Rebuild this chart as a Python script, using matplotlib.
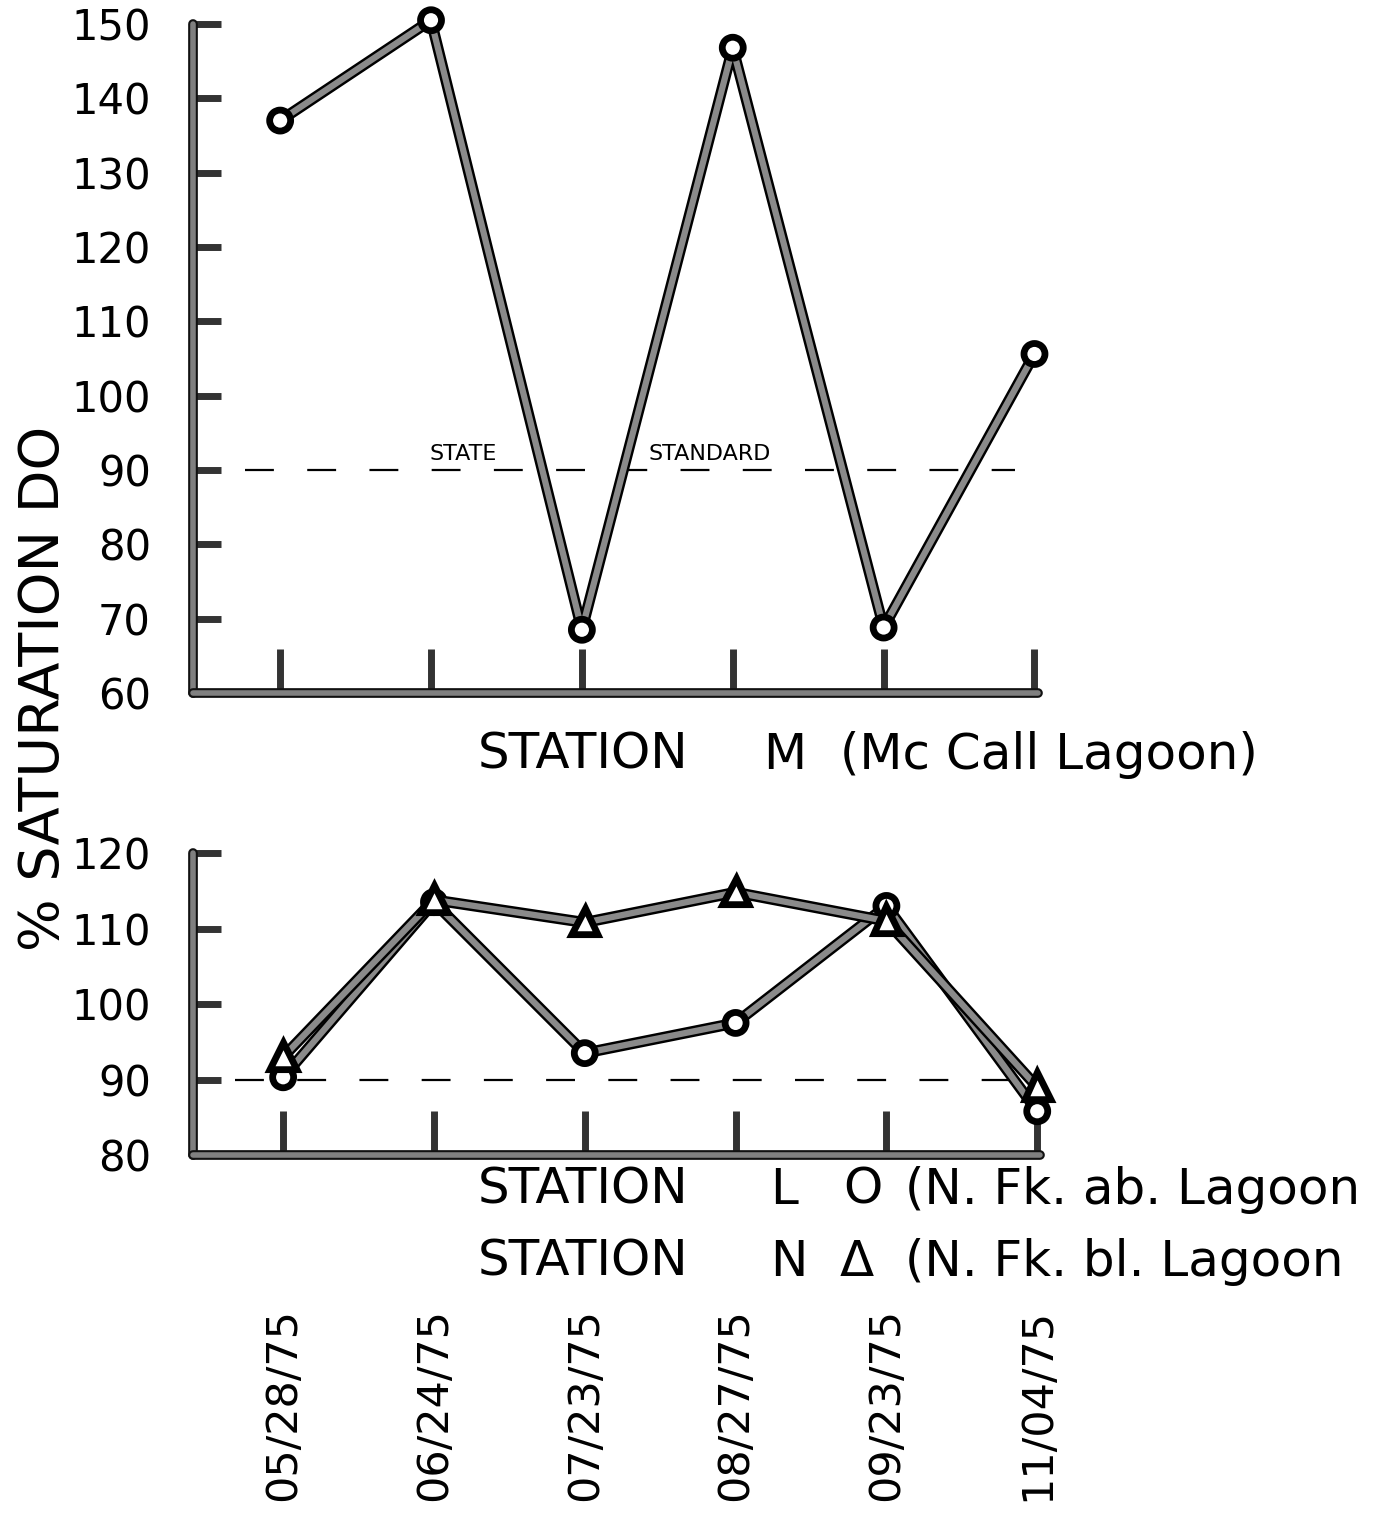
import numpy as np
import matplotlib
matplotlib.use("Agg")
import matplotlib.pyplot as plt
import matplotlib.patheffects as pe

# sampling dates (shared x axis)
dates = ["05/28/75", "06/24/75", "07/23/75", "08/27/75", "09/23/75", "11/04/75"]

# % saturation DO
station_m = [137, 150.5, 68.5, 146.8, 68.8, 105.6]
station_l = [90.3, 113.5, 93.5, 97.5, 113.0, 85.8]
station_n = [93.0, 113.8, 110.8, 114.8, 111.0, 89.0]
state_standard = 90

top_yticks = [60, 70, 80, 90, 100, 110, 120, 130, 140, 150]
bottom_yticks = [80, 90, 100, 110, 120]

plt.rcParams['font.family'] = ['DejaVu Sans']

fig = plt.figure(figsize=(13.76, 15.15), dpi=100)
ax1 = fig.add_axes([0.140, 0.5426, 0.614, 0.4416])
ax2 = fig.add_axes([0.140, 0.2376, 0.616, 0.1993])

x = np.arange(len(dates))
line_fx = [pe.Stroke(linewidth=8, foreground='black'), pe.Normal()]
spine_fx = [pe.Stroke(linewidth=7, foreground='#111111'), pe.Normal()]
dash = (0, (13, 15))


def style_axes(ax, yticks, xlim):
	ax.set_xlim(*xlim)
	ax.set_ylim(yticks[0], yticks[-1])
	for s in ['top', 'right']:
		ax.spines[s].set_visible(False)
	for s in ['left', 'bottom']:
		ax.spines[s].set_linewidth(4)
		ax.spines[s].set_color('#808080')
		ax.spines[s].set_path_effects(spine_fx)
		ax.spines[s].set_capstyle('round')
	ax.set_yticks(yticks)
	ax.set_yticklabels([str(v) for v in yticks])
	ax.set_xticks(x)
	ax.tick_params(axis='y', direction='in', length=20, width=5, color='#333333',
				   pad=30, labelsize=30)
	ax.tick_params(axis='x', direction='in', length=32, width=5, color='#333333')


def station_label(y, parts):
	for xpos, s in parts:
		fig.text(xpos / 1376.0, y, s, fontsize=36, ha='left', va='center')


style_axes(ax1, top_yticks, (-0.58, 5.02))
ax1.set_xticklabels([])
ax1.hlines(state_standard, -0.23, 4.87, colors='black', linestyles=dash, linewidth=1.6)
ax1.text(1.21, 92.1, "STATE", fontsize=16, ha='center', va='center')
ax1.text(2.85, 92.1, "STANDARD", fontsize=16, ha='center', va='center')
ax1.plot(x, station_m, color='#8a8a8a', linewidth=4.5, marker='o', markersize=12,
		 markerfacecolor='white', markeredgecolor='black', markeredgewidth=1.8,
		 path_effects=line_fx, clip_on=False, zorder=5)

style_axes(ax2, bottom_yticks, (-0.60, 5.02))
ax2.hlines(state_standard, -0.32, 4.98, colors='black', linestyles=dash, linewidth=1.6)
ax2.plot(x, station_l, color='#8a8a8a', linewidth=4.5, marker='o', markersize=12,
		 markerfacecolor='white', markeredgecolor='black', markeredgewidth=1.8,
		 path_effects=line_fx, clip_on=False, zorder=5)
ax2.plot(x, station_n, color='#8a8a8a', linewidth=4.5, marker='^', markersize=14,
		 markerfacecolor='white', markeredgecolor='black', markeredgewidth=1.8,
		 path_effects=line_fx, clip_on=False, zorder=6)
ax2.set_xticklabels(dates, rotation=90, fontsize=31)
ax2.tick_params(axis='x', pad=110)

station_label(1 - 755 / 1515.0, [(478, "STATION"), (763, "M"), (840, "(Mc Call Lagoon)")])
station_label(1 - 1190 / 1515.0, [(478, "STATION"), (770, "L"), (843, "O"), (905, "(N. Fk. ab. Lagoon")])
station_label(1 - 1262 / 1515.0, [(478, "STATION"), (770, "N"), (840, "\u0394"), (905, "(N. Fk. bl. Lagoon")])

fig.text(0.032, 1 - 688 / 1515.0, "% SATURATION DO", fontsize=40, rotation=90, ha='center', va='center')

fig.savefig("out.png", dpi=100)
